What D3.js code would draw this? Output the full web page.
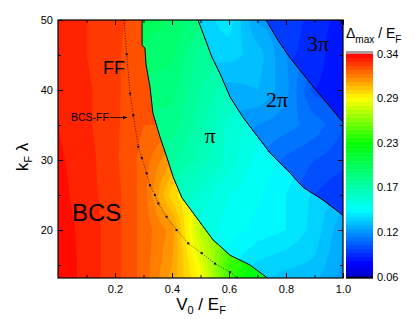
<!DOCTYPE html>
<html>
<head>
<meta charset="utf-8">
<script src="https://cdn.jsdelivr.net/npm/d3@7"></script>
<style>
  body { margin: 0; background: #fff; }
  svg { display: block; font-family: "Liberation Sans", Arial, sans-serif; }
</style>
</head>
<body>
<div class="canvas"></div>
<script>
// map grid: V0/EF across, kF*lambda down (top row first)
const v0Grid = [0, 0.1, 0.2, 0.3, 0.4, 0.5, 0.6, 0.7, 0.8, 0.9, 1.0];
const klGrid = [50, 45, 40, 35, 30, 25, 20, 15, 13];
const deltaMax = [
  [0.333, 0.330, 0.326, 0.197, 0.195, 0.132, 0.138, 0.119, 0.094, 0.087, 0.075],
  [0.333, 0.330, 0.326, 0.321, 0.191, 0.178, 0.132, 0.128, 0.115, 0.088, 0.080],
  [0.334, 0.331, 0.326, 0.321, 0.187, 0.175, 0.123, 0.125, 0.117, 0.098, 0.082],
  [0.335, 0.331, 0.326, 0.320, 0.183, 0.172, 0.158, 0.115, 0.112, 0.108, 0.100],
  [0.336, 0.332, 0.326, 0.318, 0.176, 0.168, 0.158, 0.148, 0.104, 0.100, 0.097],
  [0.337, 0.332, 0.327, 0.318, 0.292, 0.158, 0.150, 0.146, 0.140, 0.134, 0.090],
  [0.338, 0.333, 0.327, 0.318, 0.308, 0.268, 0.148, 0.143, 0.140, 0.133, 0.121],
  [0.339, 0.333, 0.327, 0.318, 0.305, 0.280, 0.240, 0.134, 0.131, 0.129, 0.119],
  [0.339, 0.333, 0.327, 0.318, 0.303, 0.284, 0.242, 0.215, 0.128, 0.126, 0.118]
];

// phase boundaries, [V0/EF, kF*lambda]
const bcsToPi = [[0.295, 50], [0.295, 46.4], [0.305, 46.0], [0.309, 43.6], [0.323, 40.4],
  [0.333, 36.7], [0.358, 33.3], [0.382, 30.4], [0.404, 27.6], [0.435, 24.6],
  [0.544, 18.6], [0.604, 16.4], [0.674, 15.0], [0.735, 13.15]];
const piTo2pi = [[0.491, 50], [0.509, 48.1], [0.540, 44.7], [0.568, 42.4], [0.604, 39.0],
  [0.649, 36.1], [0.709, 32.9], [0.744, 31.0], [0.804, 28.6], [0.860, 26.1],
  [0.930, 24.3], [1.0, 22.1]];
const twoPiTo3pi = [[0.730, 50], [0.772, 47.1], [0.814, 44.6], [0.905, 40.0], [1.0, 35.4]];
const threePiTo4pi = [[0.993, 50], [1.0, 48.6]];

// BCS-FF transition (dotted)
const bcsFF = [[0.232, 50], [0.241, 45.1], [0.253, 39.5], [0.264, 36.4], [0.282, 31.9],
  [0.294, 30.3], [0.311, 28.1], [0.323, 26.4], [0.340, 25.0], [0.352, 23.8],
  [0.381, 21.9], [0.416, 20.0], [0.457, 18.1], [0.504, 16.7], [0.551, 15.2],
  [0.604, 14.0], [0.627, 13.2]];

const xTicks = [0.2, 0.4, 0.6, 0.8, 1.0];
const xMinor = [0.1, 0.3, 0.5, 0.7, 0.9];
const yTicks = [20, 30, 40, 50];
const yMinor = [15, 25, 35, 45];
const cbRange = [0.06, 0.34];
const cbLabels = ["0.06", "0.12", "0.17", "0.23", "0.29", "0.34"];
const cmapValues = [0.060, 0.077, 0.144, 0.186, 0.228, 0.284, 0.312, 0.340];
const cmapColors = ["#0000c8", "#0000ff", "#00ffff", "#00ff80", "#00ff00", "#ffff00", "#ff8000", "#ff0000"];

const dims = { width: 415, height: 319 };
const plot = { left: 58, top: 20, right: 343, bottom: 278 };

const x = d3.scaleLinear().domain([0, 1]).range([plot.left, plot.right]);
const y = d3.scaleLinear().domain([13.15, 50]).range([plot.bottom, plot.top]);

const colour = d3.scaleLinear().domain(cmapValues).range(cmapColors)
  .interpolate(d3.interpolateRgb).clamp(true);

const step = 0.005;
const levels = d3.range(Math.round((cbRange[1] - cbRange[0]) / step)).map((i) => cbRange[0] + i * step);

const svg = d3
  .select(".canvas")
  .append("svg")
  .attr("width", dims.width)
  .attr("height", dims.height);

const defs = svg.append("defs");
defs.append("clipPath").attr("id", "plot-clip")
  .append("rect")
  .attr("x", plot.left).attr("y", plot.top)
  .attr("width", plot.right - plot.left).attr("height", plot.bottom - plot.top);

//region polygons, padded past the frame
const last = (a) => a[a.length - 1];
const T = 51, B = 12, L = -0.1, R = 1.1;
const regions = [
  [[L, T], [bcsToPi[0][0], T], ...bcsToPi, [last(bcsToPi)[0], B], [L, B]],
  [[bcsToPi[0][0], T], ...bcsToPi, [last(bcsToPi)[0], B], [R, B], [R, last(piTo2pi)[1]],
    ...piTo2pi.slice().reverse(), [piTo2pi[0][0], T]],
  [[piTo2pi[0][0], T], ...piTo2pi, [R, last(piTo2pi)[1]], [R, last(twoPiTo3pi)[1]],
    ...twoPiTo3pi.slice().reverse(), [twoPiTo3pi[0][0], T]],
  [[twoPiTo3pi[0][0], T], ...twoPiTo3pi, [R, last(twoPiTo3pi)[1]], [R, last(threePiTo4pi)[1]],
    ...threePiTo4pi.slice().reverse(), [threePiTo4pi[0][0], T]],
  [[threePiTo4pi[0][0], T], ...threePiTo4pi, [R, last(threePiTo4pi)[1]], [R, T]]
];

// which region each grid node sits in
const owner = klGrid.map((k) => v0Grid.map((v) =>
  regions.findIndex((poly) => d3.polygonContains(poly, [v, k]))));

// grid for one region: nodes outside it take the mean of filled neighbours
function regionGrid(ri) {
  let g = deltaMax.map((row, j) => row.map((v, i) => (owner[j][i] === ri ? v : null)));
  let open = true;
  while (open) {
    open = false;
    const next = g.map((row) => row.slice());
    g.forEach((row, j) => row.forEach((v, i) => {
      if (v !== null) return;
      const nb = [[j - 1, i], [j + 1, i], [j, i - 1], [j, i + 1]]
        .filter(([a, b]) => g[a] && g[a][b] != null)
        .map(([a, b]) => g[a][b]);
      if (nb.length) next[j][i] = d3.mean(nb);
      else open = true;
    }));
    g = next;
  }
  return g;
}

// finer sampling of a grid for smoother bands
const S = 6;
const nx = v0Grid.length, ny = klGrid.length;
const fx = (nx - 1) * S + 1, fy = (ny - 1) * S + 1;
function fine(g) {
  const out = new Array(fx * fy);
  for (let v = 0; v < fy; v++) {
    for (let u = 0; u < fx; u++) {
      const gi = u / S, gj = v / S;
      const i0 = Math.min(Math.floor(gi), nx - 2), j0 = Math.min(Math.floor(gj), ny - 2);
      const tx = gi - i0, ty = gj - j0;
      const a = g[j0][i0] * (1 - tx) + g[j0][i0 + 1] * tx;
      const b = g[j0 + 1][i0] * (1 - tx) + g[j0 + 1][i0 + 1] * tx;
      out[v * fx + u] = a * (1 - ty) + b * ty;
    }
  }
  return out;
}

const xIdx = d3.scaleLinear().domain(d3.range(nx)).range(v0Grid);
const yIdx = d3.scaleLinear().domain(d3.range(ny)).range(klGrid);
const gridPath = d3.geoPath(d3.geoTransform({
  point: function (cx, cy) {
    this.stream.point(x(xIdx((cx - 0.5) / S)), y(yIdx((cy - 0.5) / S)));
  }
}));

const polyLine = d3.line().x((d) => x(d[0])).y((d) => y(d[1]));

const field = svg.append("g").attr("clip-path", "url(#plot-clip)");

regions.forEach((poly, ri) => {
  defs.append("clipPath").attr("id", `region-${ri}`)
    .append("path").attr("d", polyLine(poly) + "Z");
  const bands = d3.contours().size([fx, fy]).thresholds(levels)(fine(regionGrid(ri)));
  field.append("g")
    .attr("clip-path", `url(#region-${ri})`)
    .selectAll("path")
    .data(bands)
    .join("path")
    .attr("d", gridPath)
    .attr("fill", (d) => colour(d.value + step / 2));
});

//phase boundary lines
field.selectAll(".boundary")
  .data([bcsToPi, piTo2pi, twoPiTo3pi, threePiTo4pi])
  .join("path")
  .attr("class", "boundary")
  .attr("d", polyLine)
  .attr("fill", "none")
  .attr("stroke", "#000")
  .attr("stroke-width", 1);

//BCS-FF dotted line with markers
field.append("path")
  .attr("d", polyLine(bcsFF))
  .attr("fill", "none")
  .attr("stroke", "#000")
  .attr("stroke-width", 0.7)
  .attr("stroke-dasharray", "1,1.6");
field.selectAll(".mark")
  .data(bcsFF)
  .join("rect")
  .attr("class", "mark")
  .attr("x", (d) => x(d[0]) - 1)
  .attr("y", (d) => y(d[1]) - 1)
  .attr("width", 2)
  .attr("height", 2)
  .attr("fill", "#000");

//axes, ticks inside on all four sides
const styleAxis = (g) => {
  g.select(".domain").remove();
  g.selectAll("line").attr("stroke", "#000");
  g.attr("font-size", 11).attr("font-family", "Liberation Sans, Arial, sans-serif");
};
const yOf = (k) => y(k);

svg.append("g").attr("transform", `translate(0, ${plot.bottom})`)
  .call(d3.axisBottom(x).tickValues(xTicks).tickFormat(d3.format(".1f")).tickSizeInner(-5).tickSizeOuter(0).tickPadding(7))
  .call(styleAxis);
svg.append("g").attr("transform", `translate(0, ${plot.bottom})`)
  .call(d3.axisBottom(x).tickValues(xMinor).tickFormat("").tickSizeInner(-3).tickSizeOuter(0))
  .call(styleAxis);
svg.append("g").attr("transform", `translate(0, ${plot.top})`)
  .call(d3.axisTop(x).tickValues(xTicks).tickFormat("").tickSizeInner(-5).tickSizeOuter(0))
  .call(styleAxis);
svg.append("g").attr("transform", `translate(0, ${plot.top})`)
  .call(d3.axisTop(x).tickValues(xMinor).tickFormat("").tickSizeInner(-3).tickSizeOuter(0))
  .call(styleAxis);
svg.append("g").attr("transform", `translate(${plot.left}, 0)`)
  .call(d3.axisLeft(y).tickValues(yTicks).tickFormat(d3.format("d")).tickSizeInner(-5).tickSizeOuter(0).tickPadding(5))
  .call(styleAxis);
svg.append("g").attr("transform", `translate(${plot.left}, 0)`)
  .call(d3.axisLeft(y).tickValues(yMinor).tickFormat("").tickSizeInner(-3).tickSizeOuter(0))
  .call(styleAxis);
svg.append("g").attr("transform", `translate(${plot.right}, 0)`)
  .call(d3.axisRight(y).tickValues(yTicks).tickFormat("").tickSizeInner(-5).tickSizeOuter(0))
  .call(styleAxis);
svg.append("g").attr("transform", `translate(${plot.right}, 0)`)
  .call(d3.axisRight(y).tickValues(yMinor).tickFormat("").tickSizeInner(-3).tickSizeOuter(0))
  .call(styleAxis);

svg.append("rect")
  .attr("x", plot.left).attr("y", plot.top)
  .attr("width", plot.right - plot.left).attr("height", plot.bottom - plot.top)
  .attr("fill", "none").attr("stroke", "#000").attr("stroke-width", 1.2);

//axis titles
const xTitle = svg.append("text")
  .attr("x", 201).attr("y", 310)
  .attr("text-anchor", "middle")
  .attr("font-size", 17);
xTitle.append("tspan").text("V");
xTitle.append("tspan").attr("font-size", 11).attr("dy", 4).text("0");
xTitle.append("tspan").attr("dy", -4).text(" / E");
xTitle.append("tspan").attr("font-size", 11).attr("dy", 4).text("F");

const yTitle = svg.append("text")
  .attr("transform", "translate(28, 157) rotate(-90)")
  .attr("text-anchor", "middle")
  .attr("font-size", 17);
yTitle.append("tspan").text("k");
yTitle.append("tspan").attr("font-size", 11).attr("dy", 4).text("F");
yTitle.append("tspan").attr("dy", -4).text("  λ");

//region labels
svg.append("text").attr("x", 103).attr("y", 74).attr("font-size", 18).text("FF");
svg.append("text").attr("x", 72).attr("y", 221).attr("font-size", 24).text("BCS");
svg.append("text").attr("x", 71).attr("y", 121).attr("font-size", 10.5).text("BCS-FF");

defs.append("marker").attr("id", "arrow")
  .attr("viewBox", "0 0 10 10").attr("refX", 10).attr("refY", 5)
  .attr("markerWidth", 6).attr("markerHeight", 5).attr("orient", "auto")
  .append("path").attr("d", "M0,0 L10,5 L0,10 Z").attr("fill", "#000");
svg.append("line")
  .attr("x1", 110).attr("y1", 117.5).attr("x2", 127).attr("y2", 117.5)
  .attr("stroke", "#000").attr("stroke-width", 0.8)
  .attr("marker-end", "url(#arrow)");

const serif = "Liberation Serif, Times New Roman, serif";
svg.append("text").attr("x", 210).attr("y", 143).attr("text-anchor", "middle")
  .attr("font-family", serif).attr("font-size", 22).text("π");
svg.append("text").attr("x", 266).attr("y", 107)
  .attr("font-family", serif).attr("font-size", 22).text("2π");
svg.append("text").attr("x", 307).attr("y", 51)
  .attr("font-family", serif).attr("font-size", 22).text("3π");

//colour bar
const cb = { left: 346, width: 27, top: 53.7, bottom: 276.7 };
const cbScale = d3.scaleLinear().domain(cbRange).range([cb.bottom, cb.top]);
const cbGroup = svg.append("g");
cbGroup.append("rect")
  .attr("x", cb.left).attr("y", cb.top - 2.7).attr("width", cb.width).attr("height", 2.7)
  .attr("fill", "#a0a0a0");
cbGroup.selectAll(".lvl")
  .data(levels)
  .join("rect")
  .attr("class", "lvl")
  .attr("x", cb.left)
  .attr("y", (d) => cbScale(d + step))
  .attr("width", cb.width)
  .attr("height", (d) => cbScale(d) - cbScale(d + step) + 0.4)
  .attr("fill", (d) => colour(d + step / 2));
cbGroup.append("rect")
  .attr("x", cb.left).attr("y", cb.bottom).attr("width", cb.width).attr("height", 2)
  .attr("fill", "#000");

const cbPos = d3.scalePoint().domain(cbLabels).range([cb.bottom, cb.top]);
cbGroup.selectAll(".cblabel")
  .data(cbLabels)
  .join("text")
  .attr("class", "cblabel")
  .attr("x", 377)
  .attr("y", (d) => cbPos(d))
  .attr("dy", "0.35em")
  .attr("font-size", 11)
  .text((d) => d);

const cbTitle = svg.append("text").attr("x", 346).attr("y", 38).attr("font-size", 14);
cbTitle.append("tspan").text("Δ");
cbTitle.append("tspan").attr("font-size", 10).attr("dy", 5).text("max");
cbTitle.append("tspan").attr("dy", -5).text(" / E");
cbTitle.append("tspan").attr("font-size", 10).attr("dy", 5).text("F");
</script>
</body>
</html>
